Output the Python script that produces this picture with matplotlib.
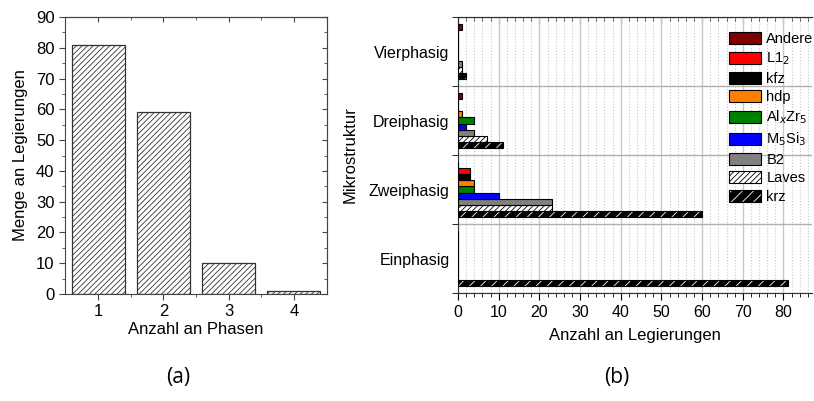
import numpy as np
import matplotlib.pyplot as plt
from matplotlib.patches import Patch
from matplotlib.ticker import MultipleLocator, FixedLocator, NullFormatter

plt.rcParams['font.family'] = ['Liberation Sans', 'DejaVu Sans']
plt.rcParams['hatch.linewidth'] = 0.6

# (a) Anzahl an Phasen
phasen = [1, 2, 3, 4]
menge = [81, 59, 10, 1]

# (b) Mikrostruktur
kategorien = ['Einphasig', 'Zweiphasig', 'Dreiphasig', 'Vierphasig']
krz = [81, 60, 11, 2]
laves = [0, 23, 7, 1]
b2 = [0, 23, 4, 1]
m5si3 = [0, 10, 2, 0]
alxzr5 = [0, 4, 4, 0]
hdp = [0, 4, 1, 0]
kfz = [0, 3, 0, 0]
l12 = [0, 3, 0, 0]
andere = [0, 0, 1, 1]

serien = [krz, laves, b2, m5si3, alxzr5, hdp, kfz, l12, andere]
namen = ['krz', 'Laves', 'B2', r'M$_5$Si$_3$', r'Al$_x$Zr$_5$', 'hdp', 'kfz', r'L1$_2$', 'Andere']
farben = ['black', 'white', '#808080', '#0000ff', '#008000', '#ff8000', 'black', '#ff0000', '#800000']

fig = plt.figure(figsize=(8.14, 4.01), dpi=100)

# ---------- (a) ----------
ax1 = fig.add_axes([0.0799, 0.2668, 0.3218, 0.6908])
ax1.bar(phasen, menge, width=0.81, color='white', edgecolor='#333333',
        hatch='//////', linewidth=0.9)
ax1.set_xlim(0.49, 4.51)
ax1.set_ylim(0, 90)
ax1.yaxis.set_major_locator(MultipleLocator(10))
ax1.yaxis.set_minor_locator(MultipleLocator(5))
ax1.xaxis.set_major_locator(FixedLocator(phasen))
ax1.xaxis.set_minor_locator(FixedLocator([1.5, 2.5, 3.5]))
ax1.tick_params(which='both', direction='out', labelsize=12, color='#444444')
ax1.tick_params(which='major', length=4)
ax1.tick_params(which='minor', length=2.5)
for s in ax1.spines.values():
    s.set_color('#444444')
# Ticks oben und rechts nach innen
oben1 = ax1.secondary_xaxis('top')
oben1.xaxis.set_major_locator(FixedLocator(phasen))
oben1.xaxis.set_minor_locator(FixedLocator([1.5, 2.5, 3.5]))
oben1.xaxis.set_major_formatter(NullFormatter())
oben1.tick_params(which='both', direction='in', color='#444444')
oben1.tick_params(which='minor', length=2.5)
oben1.spines['top'].set_color('#444444')
rechts1 = ax1.secondary_yaxis('right')
rechts1.yaxis.set_major_locator(MultipleLocator(10))
rechts1.yaxis.set_minor_locator(MultipleLocator(5))
rechts1.yaxis.set_major_formatter(NullFormatter())
rechts1.tick_params(which='both', direction='in', color='#444444')
rechts1.tick_params(which='minor', length=2.5)
rechts1.spines['right'].set_color('#444444')
ax1.set_xlabel('Anzahl an Phasen', fontsize=12, labelpad=2)
ax1.set_ylabel('Menge an Legierungen', fontsize=12, labelpad=6)

# ---------- (b) ----------
ax2 = fig.add_axes([0.5627, 0.2693, 0.4348, 0.6883])
y = np.arange(len(kategorien))
h = 0.089
for i, (werte, name, farbe) in enumerate(zip(serien, namen, farben)):
    pos = y - 0.356 + i * h
    if name == 'krz':
        ax2.barh(pos, werte, height=h, color='black', edgecolor='white',
                 hatch='///', linewidth=0, zorder=3)
        ax2.barh(pos, werte, height=h, fill=False, edgecolor='black',
                 linewidth=0.8, zorder=3)
    elif name == 'Laves':
        ax2.barh(pos, werte, height=h, color='white', edgecolor='black',
                 hatch='//////', linewidth=0.8, zorder=3)
    else:
        ax2.barh(pos, werte, height=h, color=farbe, edgecolor='black',
                 linewidth=0.8, zorder=3)

ax2.set_xlim(0, 87)
ax2.set_ylim(-0.5, 3.5)
ax2.xaxis.set_major_locator(MultipleLocator(10))
ax2.xaxis.set_minor_locator(MultipleLocator(2))
ax2.set_yticks(y)
ax2.set_yticklabels(kategorien, fontsize=11.5)
ax2.yaxis.set_minor_locator(FixedLocator([-0.5, 0.5, 1.5, 2.5, 3.5]))
ax2.tick_params(axis='y', which='major', length=0, pad=6)
ax2.tick_params(axis='y', which='minor', length=4, direction='out')
ax2.tick_params(axis='x', which='major', length=5, direction='out', labelsize=11.5)
ax2.tick_params(axis='x', which='minor', length=3, direction='out')
ax2.xaxis.grid(True, which='major', color='#c8c8c8', linewidth=1.0, zorder=0)
ax2.xaxis.grid(True, which='minor', color='#c8c8c8', linestyle=':', linewidth=0.8, zorder=0)
ax2.yaxis.grid(True, which='minor', color='#b0b0b0', linewidth=1.0, zorder=0)
ax2.set_axisbelow(True)
ax2.spines['right'].set_visible(False)
for s in ['left', 'top', 'bottom']:
    ax2.spines[s].set_color('#333333')
oben2 = ax2.secondary_xaxis('top')
oben2.xaxis.set_major_locator(MultipleLocator(10))
oben2.xaxis.set_minor_locator(MultipleLocator(2))
oben2.xaxis.set_major_formatter(NullFormatter())
oben2.tick_params(which='major', direction='in', length=5)
oben2.tick_params(which='minor', direction='in', length=3)
oben2.spines['top'].set_color('#333333')
ax2.set_xlabel('Anzahl an Legierungen', fontsize=12, labelpad=6)
ax2.set_ylabel('Mikrostruktur', fontsize=12, labelpad=8)

handles = []
for name, farbe in zip(namen, farben):
    if name == 'krz':
        handles.append((Patch(facecolor='black', edgecolor='white', hatch='///', linewidth=0),
                        Patch(fill=False, edgecolor='black', linewidth=0.8)))
    elif name == 'Laves':
        handles.append(Patch(facecolor='white', edgecolor='black', hatch='//////', linewidth=0.8))
    else:
        handles.append(Patch(facecolor=farbe, edgecolor='black', linewidth=0.8))
ax2.legend(handles[::-1], namen[::-1], loc='upper left', frameon=False,
           fontsize=10.5, handlelength=2.2, handleheight=0.9, labelspacing=0.3,
           handletextpad=0.35, borderaxespad=0.0, borderpad=0.0,
           bbox_to_anchor=(0.766, 0.945))

fig.text(0.219, 0.045, '(a)', fontsize=15, family=['Open Sans', 'DejaVu Sans'], ha='center')
fig.text(0.758, 0.045, '(b)', fontsize=15, family=['Open Sans', 'DejaVu Sans'], ha='center')

fig.savefig('out.png', dpi=100)
